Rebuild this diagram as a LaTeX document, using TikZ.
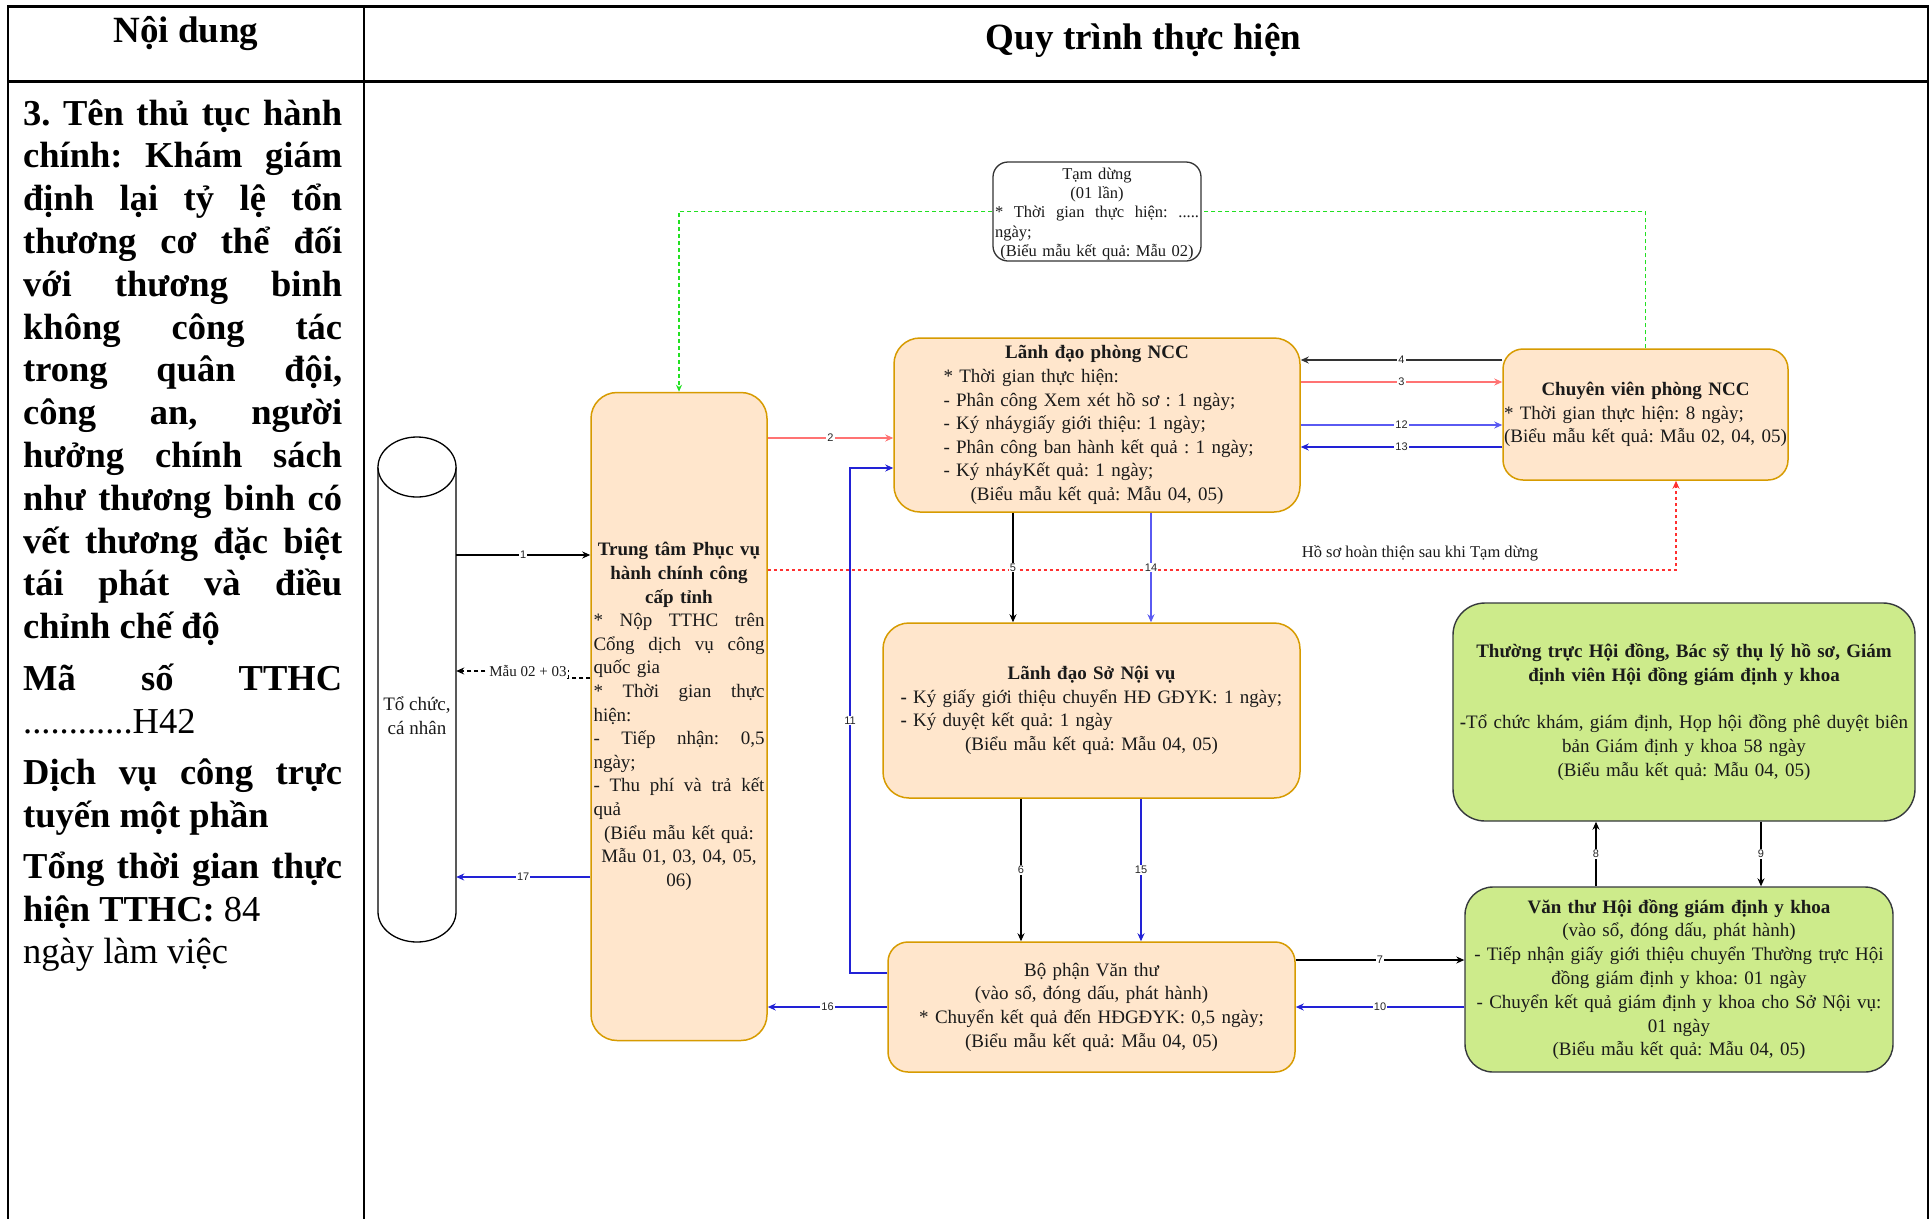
\documentclass[tikz,border=0pt]{standalone}
\usepackage{fontspec}
\setmainfont{Liberation Serif}
\newfontfamily\numfont{Liberation Sans}
\usetikzlibrary{arrows.meta}

\definecolor{ofill}{HTML}{FFE6CC}
\definecolor{oline}{HTML}{D79B00}
\definecolor{gfill}{HTML}{CDEB8B}
\definecolor{gline}{HTML}{36393D}
\definecolor{pinkln}{HTML}{FF7373}
\definecolor{redln}{HTML}{FF3030}
\definecolor{grnln}{HTML}{22E022}
\definecolor{bluea}{HTML}{2222D6}
\definecolor{blueb}{HTML}{5A5AF2}
\definecolor{greyln}{HTML}{333333}
\definecolor{txt}{HTML}{1A1A1A}

% a line spread to a given width, and a line set flush left in a given width
\newcommand\jline[2]{\makebox[#1][s]{\spaceskip=.25em plus 1fil\xspaceskip=.25em plus 1fil #2}}
\newcommand\lline[2]{\makebox[#1][l]{#2}}

\hbadness=10000
\frenchspacing

\begin{document}
\begin{tikzpicture}[x=1pt,y=-1pt,
  obox/.style={draw=oline, fill=ofill, line width=1.5pt, inner sep=0pt, align=center, text=txt,
    font=\fontsize{19pt}{23.6pt}\selectfont},
  gbox/.style={draw=gline, fill=gfill, line width=1.4pt, inner sep=0pt, align=center, text=txt,
    font=\fontsize{19pt}{23.8pt}\selectfont},
  conn/.style={line width=1.3pt, -{Stealth[length=8pt,width=7pt]}},
  num/.style={fill=white, inner sep=1pt, text=black!85, font=\numfont\fontsize{11pt}{12pt}\selectfont},
  lcol/.style={anchor=base west, inner sep=0pt, font=\fontsize{36.5pt}{43pt}\selectfont},
  head/.style={anchor=base, inner sep=0pt, font=\bfseries\fontsize{37pt}{40pt}\selectfont},
  grn/.style={grnln, line width=1.2pt, dash pattern=on 4pt off 3pt},
]
\useasboundingbox (0,0) rectangle (1931,1219);
\fill[white] (0,0) rectangle (1931,1219);

% ---- table frame ----
\draw[line width=3pt] (7,6) -- (1929,6);
\draw[line width=3pt] (7,81) -- (1929,81);
\draw[line width=2pt] (8,5) -- (8,1219);
\draw[line width=1.6pt] (364,5) -- (364,1219);
\draw[line width=1.6pt] (1928,5) -- (1928,1219);

\node[head] (hd1) at (186,42) {Nội dung};
\node[head] (hd2) at (1143.5,49) {Quy trình thực hiện};

% ---- left column ----
\node[lcol] (l1)  at (23,125.0) {\jline{319pt}{\bfseries 3. Tên thủ tục hành}};
\node[lcol] (l2)  at (23,167.8) {\jline{319pt}{\bfseries chính: Khám giám}};
\node[lcol] (l3)  at (23,210.6) {\jline{319pt}{\bfseries định lại tỷ lệ tổn}};
\node[lcol] (l4)  at (23,253.4) {\jline{319pt}{\bfseries thương cơ thể đối}};
\node[lcol] (l5)  at (23,296.2) {\jline{319pt}{\bfseries với thương binh}};
\node[lcol] (l6)  at (23,339.0) {\jline{319pt}{\bfseries không công tác}};
\node[lcol] (l7)  at (23,381.8) {\jline{319pt}{\bfseries trong quân đội,}};
\node[lcol] (l8)  at (23,424.6) {\jline{319pt}{\bfseries công an, người}};
\node[lcol] (l9)  at (23,467.4) {\jline{319pt}{\bfseries hưởng chính sách}};
\node[lcol] (l10) at (23,510.2) {\jline{319pt}{\bfseries như thương binh có}};
\node[lcol] (l11) at (23,553.0) {\jline{319pt}{\bfseries vết thương đặc biệt}};
\node[lcol] (l12) at (23,595.8) {\jline{319pt}{\bfseries tái phát và điều}};
\node[lcol] (l13) at (23,638.6) {\bfseries chỉnh chế độ};
\node[lcol] (l14) at (23,690) {\jline{319pt}{\bfseries Mã số TTHC}};
\node[lcol] (l15) at (23,733) {............H42};
\node[lcol] (l16) at (23,784) {\jline{319pt}{\bfseries Dịch vụ công trực}};
\node[lcol] (l17) at (23,827) {\bfseries tuyến một phần};
\node[lcol] (l18) at (23,878) {\jline{319pt}{\bfseries Tổng thời gian thực}};
\node[lcol] (l19) at (23,921) {\textbf{hiện TTHC:} 84};
\node[lcol] (l20) at (23,963) {ngày làm việc};

% ---- cylinder: applicant ----
\node[minimum width=78pt, minimum height=505pt, inner sep=0pt] (org) at (417,689.5) {};
\draw[line width=1.3pt, fill=white] (378,467) -- (378,912)
  arc[start angle=180, end angle=360, x radius=39pt, y radius=30pt] -- (456,467);
\draw[line width=1.3pt, fill=white] (417,467) ellipse[x radius=39pt, y radius=30pt];
\node[align=center, inner sep=0pt, text=txt, font=\fontsize{19pt}{24pt}\selectfont] (orgtxt) at (417,716) {Tổ chức,\\cá nhân};

% ---- process boxes ----
\node[obox, minimum width=176pt, minimum height=648pt, rounded corners=26pt, text width=172pt] (tt) at (679,716.5) {%
  \textbf{Trung tâm Phục vụ}\\
  \textbf{hành chính công}\\
  \textbf{cấp tỉnh}\\
  \jline{171pt}{* Nộp TTHC trên}\\
  \jline{171pt}{Cổng dịch vụ công}\\
  \lline{171pt}{quốc gia}\\
  \jline{171pt}{* Thời gian thực}\\
  \lline{171pt}{hiện:}\\
  \jline{171pt}{- Tiếp nhận: 0,5}\\
  \lline{171pt}{ngày;}\\
  \jline{171pt}{- Thu phí và trả kết}\\
  \lline{171pt}{quả}\\
  (Biểu mẫu kết quả:\\
  Mẫu 01, 03, 04, 05,\\
  06)};

\node[obox, minimum width=406pt, minimum height=174pt, rounded corners=26pt, text width=400pt] (ldp) at (1097,425) {%
  \textbf{Lãnh đạo phòng NCC}\\
  \lline{307pt}{* Thời gian thực hiện:}\\
  \lline{307pt}{- Phân công Xem xét hồ sơ : 1 ngày;}\\
  \lline{307pt}{- Ký nháygiấy giới thiệu: 1 ngày;}\\
  \lline{307pt}{- Phân công ban hành kết quả : 1 ngày;}\\
  \lline{307pt}{- Ký nháyKết quả: 1 ngày;}\\
  (Biểu mẫu kết quả: Mẫu 04, 05)};

\node[obox, minimum width=285pt, minimum height=131pt, rounded corners=20pt, text width=283pt] (cv) at (1645.5,414.5) {%
  \textbf{Chuyên viên phòng NCC}\\
  \lline{283pt}{* Thời gian thực hiện: 8 ngày;}\\
  \lline{283pt}{(Biểu mẫu kết quả: Mẫu 02, 04, 05)}};

\node[obox, minimum width=417pt, minimum height=175pt, rounded corners=26pt, text width=410pt] (lds) at (1091.5,710.5) {%
  \textbf{Lãnh đạo Sở Nội vụ}\\
  \lline{382pt}{\textbf{-} Ký giấy giới thiệu chuyển HĐ GĐYK: 1 ngày;}\\
  \lline{382pt}{\textbf{-} Ký duyệt kết quả: 1 ngày}\\
  (Biểu mẫu kết quả: Mẫu 04, 05)};

\node[obox, minimum width=407pt, minimum height=130pt, rounded corners=20pt, text width=400pt] (vt) at (1091.5,1007) {%
  Bộ phận Văn thư\\
  (vào sổ, đóng dấu, phát hành)\\
  {*} Chuyển kết quả đến HĐGĐYK: 0,5 ngày;\\
  (Biểu mẫu kết quả: Mẫu 04, 05)};

\node[gbox, minimum width=462pt, minimum height=218pt, rounded corners=32pt, text width=460pt] (ttr) at (1684,712) {%
  \textbf{Thường trực Hội đồng, Bác sỹ thụ lý hồ sơ, Giám}\\
  \textbf{định viên Hội đồng giám định y khoa}\\
  \mbox{}\\
  \mbox{\textbf{-}Tổ chức khám, giám định, Họp hội đồng phê duyệt biên}\\
  bản Giám định y khoa 58 ngày\\
  (Biểu mẫu kết quả: Mẫu 04, 05)};

\node[gbox, minimum width=428pt, minimum height=185pt, rounded corners=28pt, text width=426pt] (vhd) at (1679,979.5) {%
  \textbf{Văn thư Hội đồng giám định y khoa}\\
  (vào sổ, đóng dấu, phát hành)\\
  \mbox{- Tiếp nhận giấy giới thiệu chuyển Thường trực Hội}\\
  đồng giám định y khoa: 01 ngày\\
  \mbox{- Chuyển kết quả giám định y khoa cho Sở Nội vụ:}\\
  01 ngày\\
  (Biểu mẫu kết quả: Mẫu 04, 05)};

\node[draw=greyln, fill=white, line width=1.3pt, inner sep=0pt, align=center, text=txt,
  minimum width=208pt, minimum height=99pt, rounded corners=15pt, text width=206pt,
  font=\fontsize{16.5pt}{19.3pt}\selectfont] (tam) at (1097,211.5) {%
  \raisebox{0pt}[16pt]{Tạm dừng}\\
  (01 lần)\\
  \jline{204pt}{* Thời gian thực hiện: .....}\\
  \lline{204pt}{ngày;}\\
  (Biểu mẫu kết quả: Mẫu 02)};

% ---- connectors ----
\draw[conn] (org.east |- 0,555) -- node[num]{1} (tt.west |- 0,555);
\draw[conn, dash pattern=on 4pt off 3pt] (tt.west |- 0,678) -- (568,678) -- (568,671) -- (org.east |- 0,671);
\node[fill=white, inner sep=1pt, text=txt, font=\fontsize{15pt}{16pt}\selectfont] (mau) at (528,671) {Mẫu 02 + 03};
\draw[conn, bluea] (tt.west |- 0,877) -- node[num]{17} (org.east |- 0,877);

\draw[conn, pinkln] (tt.east |- 0,438) -- node[num]{2} (ldp.west |- 0,438);
\draw[conn, bluea] (vt.west |- 0,973) -- (850,973) -- node[num]{11} (850,468) -- (ldp.west |- 0,468);

\draw[conn, greyln] (cv.west |- 0,360) -- node[num]{4} (ldp.east |- 0,360);
\draw[conn, pinkln] (ldp.east |- 0,382) -- node[num]{3} (cv.west |- 0,382);
\draw[conn, blueb] (ldp.east |- 0,425) -- node[num]{12} (cv.west |- 0,425);
\draw[conn, bluea] (cv.west |- 0,447) -- node[num]{13} (ldp.east |- 0,447);

\draw[conn, redln, line width=1.2pt, dash pattern=on 3pt off 3pt] (tt.east |- 0,570) -| (1676,0 |- cv.south);
\node[inner sep=0pt, text=txt, font=\fontsize{16.5pt}{18pt}\selectfont] (hoso) at (1420,553) {Hồ sơ hoàn thiện sau khi Tạm dừng};

\draw[conn, line width=2pt] (ldp.south -| 1013,0) -- node[num]{5} (lds.north -| 1013,0);
\draw[conn, blueb] (ldp.south -| 1151,0) -- node[num]{14} (lds.north -| 1151,0);
\draw[conn] (lds.south -| 1021,0) -- node[num]{6} (vt.north -| 1021,0);
\draw[conn, bluea] (lds.south -| 1141,0) -- node[num]{15} (vt.north -| 1141,0);

\draw[conn, bluea] (vt.west |- 0,1007) -- node[num]{16} (tt.east |- 0,1007);
\draw[conn] (vt.east |- 0,960) -- node[num]{7} (vhd.west |- 0,960);
\draw[conn, bluea] (vhd.west |- 0,1007) -- node[num]{10} (vt.east |- 0,1007);

\draw[conn] (vhd.north -| 1596,0) -- node[num]{8} (ttr.south -| 1596,0);
\draw[conn] (ttr.south -| 1761,0) -- node[num]{9} (vhd.north -| 1761,0);

\draw[grn, -{Stealth[length=7pt,width=6pt]}] (tam.west) -| (tt.north);
\draw[grn] (cv.north) |- (tam.east);
\end{tikzpicture}
\end{document}
